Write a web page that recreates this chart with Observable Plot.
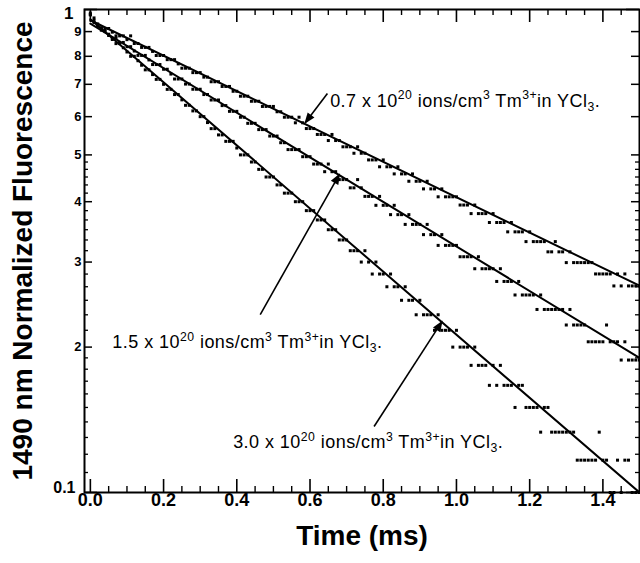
<!DOCTYPE html>
<html><head><meta charset="utf-8">
<script src="https://cdn.jsdelivr.net/npm/d3@7"></script>
<script src="https://cdn.jsdelivr.net/npm/@observablehq/plot@0.6"></script>
<style>
html,body{margin:0;padding:0;background:#fff;}
</style></head><body>
<script>
// ---- data ----
const sampleStepMs = 0.01;            // time between recorded samples
// recorded signal in digitiser counts; each series normalised by its own full scale
const fullScaleA = 63.5, fullScaleB = 58.5, fullScaleC = 60;
const countsA = [62,61,59,58,58,58,57,56,56,56,
 55,56,54,54,53,53,53,52,51,51,
 51,50,50,50,49,48,48,48,47,47,
 47,46,46,45,45,45,44,44,44,43,
 43,42,42,42,41,41,41,40,40,40,
 40,39,39,38,38,38,37,38,37,36,
 36,36,35,35,35,34,35,34,34,33,
 33,33,32,33,32,32,31,31,31,30,
 31,30,30,29,30,29,29,28,29,28,
 28,27,28,27,27,26,27,26,26,26,
 26,25,25,25,24,25,24,24,24,23,
 24,23,23,23,22,23,22,22,22,21,
 22,21,21,21,21,20,20,21,20,20,
 19,20,19,19,19,19,19,19,18,18,
 18,18,18,17,18,17,18,17,17,17,
 17];
const countsB = [57,55,54,53,53,52,51,51,50,50,
 49,49,48,47,47,47,46,45,45,45,
 44,44,43,42,42,42,41,41,40,40,
 40,39,39,38,38,38,37,37,36,36,
 36,35,35,34,34,34,33,33,33,32,
 32,32,31,31,30,30,30,30,29,29,
 29,28,28,28,27,28,27,27,26,26,
 26,25,25,26,25,24,24,24,23,24,
 23,23,22,23,22,22,21,22,21,21,
 21,20,21,20,20,19,20,19,19,19,
 19,18,18,18,18,17,18,17,17,17,
 17,16,17,16,16,16,15,16,15,15,
 15,15,14,15,14,14,14,14,14,14,
 13,14,13,13,13,13,12,12,12,12,
 12,13,12,12,12,11,12,11,11,11,
 11];
const countsC = [59,57,56,55,54,53,52,51,51,50,
 49,48,48,47,46,45,45,44,43,43,
 42,41,41,40,40,39,38,38,37,37,
 36,36,35,34,34,33,33,32,32,32,
 31,30,30,30,29,29,28,28,27,27,
 27,26,26,25,25,25,24,24,24,23,
 23,23,22,22,22,21,21,21,20,20,
 20,19,19,19,18,19,18,17,18,17,
 17,16,17,16,16,15,16,15,15,14,
 15,14,14,14,13,14,13,13,13,12,
 13,12,12,12,11,12,11,11,11,10,
 11,10,11,10,10,10,9,10,10,9,
 9,9,9,8,9,9,8,8,8,8,
 8,8,8,7,7,7,7,7,7,8,
 7,7,6,6,7,6,7,7,6,6,
 6];
// single-exponential fits (straight on the log axis): end points
const fitTimes = [0, 1.5];
const fitA = [0.95, 0.268];
const fitB = [0.935, 0.19];
const fitC = [0.955, 0.1];
// annotation texts (^{..} superscript, _{..} subscript)
const labelA = "0.7 x 10^{20} ions/cm^{3} Tm^{3+}in YCl_{3}.";
const labelB = "1.5 x 10^{20} ions/cm^{3} Tm^{3+}in YCl_{3}.";
const labelC = "3.0 x 10^{20} ions/cm^{3} Tm^{3+}in YCl_{3}.";
// axis ticks
const xMajorTicks = [0,0.2,0.4,0.6,0.8,1.0,1.2,1.4];
const xTickLabels = ["0.0","0.2","0.4","0.6","0.8","1.0","1.2","1.4"];
const xMinorTicks = [0.05,0.1,0.15,0.25,0.3,0.35,0.45,0.5,0.55,0.65,0.7,0.75,0.85,0.9,0.95,1.05,1.1,1.15,1.25,1.3,1.35,1.45];
const yDecadeTicks = [0.1, 1];
const yDecadeLabels = ["0.1", "1"];
const yMidTicks = [0.2,0.3,0.4,0.5,0.6,0.7,0.8,0.9];
const yMidLabels = ["2","3","4","5","6","7","8","9"];
const yMinorTicks = [0.11,0.12,0.13,0.14,0.15,0.16,0.17,0.18,0.19,
  0.2167,0.2333,0.25,0.2667,0.2833,0.3167,0.3333,0.35,0.3667,0.3833,
  0.4167,0.4333,0.45,0.4667,0.4833];
const xTitle = "Time (ms)";
const yTitle = "1490 nm Normalized Fluorescence";

// ---- tables for the library ----
const points = [];
[[countsA, fullScaleA, "A"], [countsB, fullScaleB, "B"], [countsC, fullScaleC, "C"]].forEach(([c, fs, s]) => {
  c.forEach((n, i) => points.push({series: s, t: i * sampleStepMs, v: n / fs}));
});
const fits = [];
[[fitA, "A"], [fitB, "B"], [fitC, "C"]].forEach(([vals, s]) => {
  vals.forEach((v, i) => fits.push({series: s, t: fitTimes[i], v}));
});
// annotation layout (positions in data units)
const annotations = [
  {text: labelA, t: 0.655, v: 0.647, ax1: 0.6475, ay1: 0.670, ax2: 0.587, ay2: 0.583},
  {text: labelB, t: 0.060, v: 0.2044, ax1: 0.464, ay1: 0.2336, ax2: 0.680, ay2: 0.4553},
  {text: labelC, t: 0.39, v: 0.127, ax1: 0.775, ay1: 0.137, ax2: 0.96, ay2: 0.2256}
];

const frameH = 563 - 9 - 71, frameW = 640 - 84 - 1;
const bold = "bold";
const chart = Plot.plot({
  width: 640, height: 563,
  marginLeft: 84, marginRight: 1, marginTop: 9, marginBottom: 71,
  x: {domain: [-0.016, 1.5], axis: null},
  y: {type: "log", domain: [0.1, 1], axis: null},
  style: {fontFamily: "'Liberation Sans', Arial, Helvetica, sans-serif", background: "#fff", color: "#000"},
  marks: [
    Plot.dot(points, {x: "t", y: "v", symbol: "square", r: 1.7, fill: "black", stroke: "none"}),
    Plot.line(fits, {x: "t", y: "v", z: "series", stroke: "black", strokeWidth: 2}),
    // bottom & top ticks (inward)
    Plot.tickX(xMajorTicks, {x: d => d, insetTop: frameH - 13, stroke: "black", strokeWidth: 1.6}),
    Plot.tickX(xMinorTicks, {x: d => d, insetTop: frameH - 6, stroke: "black", strokeWidth: 1.4}),
    Plot.tickX(xMajorTicks, {x: d => d, insetBottom: frameH - 13, stroke: "black", strokeWidth: 1.6}),
    Plot.tickX(xMinorTicks, {x: d => d, insetBottom: frameH - 6, stroke: "black", strokeWidth: 1.4}),
    // left & right ticks (inward)
    Plot.tickY(yDecadeTicks, {y: d => d, insetRight: frameW - 13, stroke: "black", strokeWidth: 1.6}),
    Plot.tickY(yMidTicks, {y: d => d, insetRight: frameW - 8, stroke: "black", strokeWidth: 1.5}),
    Plot.tickY(yMinorTicks, {y: d => d, insetRight: frameW - 4, stroke: "black", strokeWidth: 1.3}),
    Plot.tickY(yDecadeTicks, {y: d => d, insetLeft: frameW - 13, stroke: "black", strokeWidth: 1.6}),
    Plot.tickY(yMidTicks, {y: d => d, insetLeft: frameW - 8, stroke: "black", strokeWidth: 1.5}),
    Plot.tickY(yMinorTicks, {y: d => d, insetLeft: frameW - 4, stroke: "black", strokeWidth: 1.3}),
    Plot.frame({stroke: "black", strokeWidth: 2}),
    // tick labels
    Plot.text(xMajorTicks, {x: d => d, frameAnchor: "bottom", dy: 13, text: (d, i) => xTickLabels[i], fontSize: 18, fontWeight: bold, fill: "black"}),
    Plot.text(yMidTicks, {y: d => d, frameAnchor: "left", dx: -3, textAnchor: "end", text: (d, i) => yMidLabels[i], fontSize: 13, fontWeight: bold, fill: "black"}),
    Plot.text([yDecadeTicks[1]], {y: d => d, frameAnchor: "left", dx: -11, dy: 4, textAnchor: "end", text: [yDecadeLabels[1]], fontSize: 17, fontWeight: bold, fill: "black"}),
    Plot.text([yDecadeTicks[0]], {y: d => d, frameAnchor: "left", dx: -9, dy: -5, textAnchor: "end", text: [yDecadeLabels[0]], fontSize: 16, fontWeight: bold, fill: "black"}),
    // axis titles
    Plot.text([xTitle], {frameAnchor: "bottom", dy: 52, textAnchor: "middle", fontSize: 28, fontWeight: bold, fill: "black"}),
    Plot.text([yTitle], {frameAnchor: "left", dx: -61, textAnchor: "middle", rotate: -90, fontSize: 28, fontWeight: bold, fill: "black"}),
    // annotations
    Plot.link(annotations, {x1: "ax1", y1: "ay1", x2: "ax2", y2: "ay2", stroke: "black", strokeWidth: 1.6, markerEnd: "arrow"}),
    Plot.text(annotations, {x: "t", y: "v", text: "text", textAnchor: "start", fontSize: 18, fill: "black"})
  ]
});
document.body.appendChild(chart);

// render ^{..} / _{..} as real superscript/subscript tspans
const NS = "http://www.w3.org/2000/svg";
chart.querySelectorAll("text").forEach(el => {
  const s = el.textContent;
  if (!/[\^_]\{/.test(s)) return;
  const fs = 18;
  el.textContent = "";
  el.setAttribute("letter-spacing", "0.45");
  let shift = 0;
  s.split(/(\^\{[^}]*\}|_\{[^}]*\})/).forEach(p => {
    if (!p) return;
    let target = 0, txt = p, size = fs;
    if (p.startsWith("^{")) { target = -0.42 * fs; txt = p.slice(2, -1); size = fs * 0.68; }
    else if (p.startsWith("_{")) { target = 0.22 * fs; txt = p.slice(2, -1); size = fs * 0.68; }
    const ts = document.createElementNS(NS, "tspan");
    ts.setAttribute("dy", (target - shift).toFixed(2));
    ts.setAttribute("font-size", size);
    ts.textContent = txt;
    el.appendChild(ts);
    shift = target;
  });
});
// filled arrowheads
chart.querySelectorAll("marker").forEach(m => {
  m.setAttribute("overflow", "visible");
  m.setAttribute("fill", "black");
  m.setAttribute("stroke", "none");
  const p = m.querySelector("path");
  if (p) p.setAttribute("d", "M-9,-4L1.5,0L-9,4Z");
});
</script>
</body></html>
